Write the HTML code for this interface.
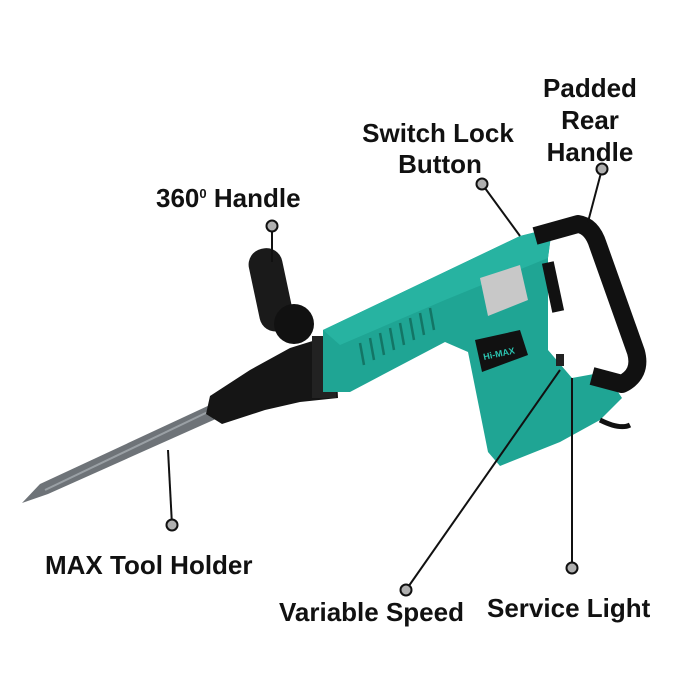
<!DOCTYPE html>
<html><head><style>
html,body{margin:0;padding:0;background:#fff;}
svg{display:block}
text{font-family:"Liberation Sans",sans-serif;font-weight:bold;font-size:26px;fill:#111}
</style></head><body>
<svg width="700" height="700" viewBox="0 0 700 700">
<!-- chisel -->
<polygon points="212,404 218,418 48,494 22,503 40,484" fill="#6e7378"/>
<line x1="45" y1="490" x2="212" y2="410" stroke="#9aa0a5" stroke-width="2"/>
<!-- chuck -->
<polygon points="335,334 338,398 300,402 265,410 222,424 206,414 210,396 250,370 290,348" fill="#151515"/>
<rect x="312" y="336" width="24" height="62" fill="#222"/>
<!-- side handle -->
<g transform="rotate(-12 270 290)">
<rect x="254" y="248" width="34" height="84" rx="16" fill="#1a1a1a"/>
</g>
<circle cx="294" cy="324" r="20" fill="#111"/>
<!-- green body -->
<polygon points="323,330 520,236 552,228 548,258 548,350 572,378 605,372 622,398 600,420 560,442 500,466 488,452 468,352 445,342 350,392 323,392" fill="#1fa594"/>
<polygon points="323,330 520,236 552,228 548,258 445,300 340,345" fill="#27b3a1"/>
<!-- vents -->
<g stroke="#137565" stroke-width="2.5">
<line x1="360" y1="343" x2="364" y2="365"/><line x1="370" y1="338" x2="374" y2="360"/>
<line x1="380" y1="333" x2="384" y2="355"/><line x1="390" y1="328" x2="394" y2="350"/>
<line x1="400" y1="323" x2="404" y2="345"/><line x1="410" y1="318" x2="414" y2="340"/>
<line x1="420" y1="313" x2="424" y2="335"/><line x1="430" y1="308" x2="434" y2="330"/>
</g>
<!-- label plate -->
<polygon points="475,340 520,330 528,355 482,372" fill="#111"/>
<text x="484" y="360" style="font-size:9px;fill:#2bc4b0" transform="rotate(-12 484 360)">Hi-MAX</text>
<!-- silver badge -->
<polygon points="480,278 520,265 528,300 488,316" fill="#c8c8c8"/>
<!-- rear handle -->
<path d="M535,236 L578,224 Q592,226 598,245 L636,352 Q642,374 622,384 L592,376" fill="none" stroke="#111" stroke-width="18" stroke-linejoin="round"/>
<rect x="547" y="262" width="12" height="50" fill="#111" transform="rotate(-12 553 287)"/>
<rect x="556" y="354" width="8" height="12" fill="#222"/>
<path d="M600,420 Q620,430 630,425" stroke="#111" stroke-width="5" fill="none"/>
<!-- leader lines -->
<g stroke="#111" stroke-width="2" fill="none">
<line x1="602" y1="169" x2="588" y2="222"/>
<line x1="482" y1="184" x2="520" y2="236"/>
<line x1="272" y1="226" x2="272" y2="262"/>
<line x1="172" y1="525" x2="168" y2="450"/>
<line x1="406" y1="590" x2="560" y2="370"/>
<line x1="572" y1="568" x2="572" y2="378"/>
</g>
<g fill="#b0b0b0" stroke="#111" stroke-width="2">
<circle cx="602" cy="169" r="5.5"/><circle cx="482" cy="184" r="5.5"/>
<circle cx="272" cy="226" r="5.5"/><circle cx="172" cy="525" r="5.5"/>
<circle cx="406" cy="590" r="5.5"/><circle cx="572" cy="568" r="5.5"/>
</g>
<!-- labels -->
<g text-anchor="middle">
<text x="590" y="97">Padded</text>
<text x="590" y="129">Rear</text>
<text x="590" y="161">Handle</text>
<text x="438" y="142">Switch Lock</text>
<text x="440" y="173">Button</text>
</g>
<text x="156" y="207">360<tspan dy="-9" style="font-size:13px">0</tspan><tspan dy="9"> Handle</tspan></text>
<text x="45" y="574">MAX Tool Holder</text>
<text x="279" y="621">Variable Speed</text>
<text x="487" y="617">Service Light</text>
</svg>
</body></html>
